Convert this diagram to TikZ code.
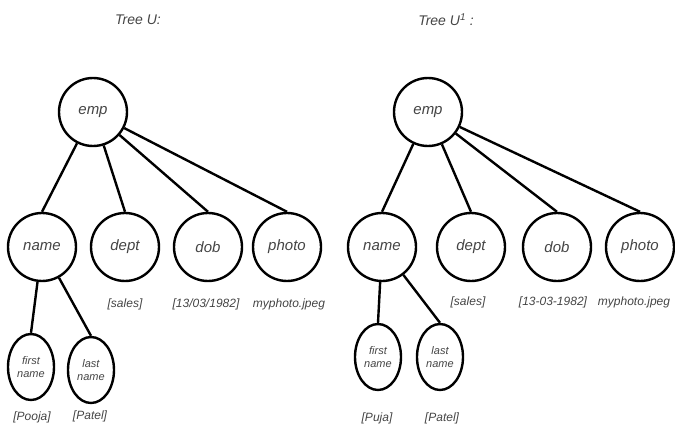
\documentclass[tikz,border=0pt]{standalone}
\usepackage{fontspec}
\setmainfont{Liberation Sans}
\usetikzlibrary{shapes.geometric}
\definecolor{txt}{HTML}{444444}
\tikzset{
  circ/.style={circle,draw=black,line width=2.4pt,minimum size=68pt,inner sep=0pt,
    font=\itshape\fontsize{15}{15}\selectfont,text=txt},
  ell/.style={ellipse,draw=black,line width=2.4pt,minimum width=46pt,minimum height=66pt,inner sep=0pt,
    align=center,font=\itshape\fontsize{11}{12.5}\selectfont,text=txt},
  lab/.style={font=\itshape\fontsize{12}{12}\selectfont,text=txt,inner sep=0pt},
  ttl/.style={font=\itshape\fontsize{14}{14}\selectfont,text=txt,inner sep=0pt},
  edge/.style={draw=black,line width=2.4pt}
}
\begin{document}
\begin{tikzpicture}[x=1pt,y=-1pt]
\useasboundingbox (0,0) rectangle (675,428);
% Left tree
\node[ttl] (t1) at (138,20) {Tree U:};
\node[circ] (e1) at (93,112) {emp};
\node[circ] (n1) at (42,247) {name};
\node[circ] (d1) at (125,247) {dept};
\node[circ] (b1) at (208,247) {dob};
\node[circ] (p1) at (287,247) {photo};
\node[ell] (f1) at (31,367) {first\\name};
\node[ell] (l1) at (91,370) {last\\name};
\node[lab] (s1) at (125,304) {[sales]};
\node[lab] (db1) at (206,304) {[13/03/1982]};
\node[lab] (ph1) at (289,304) {myphoto.jpeg};
\node[lab] (fv1) at (32,417) {[Pooja]};
\node[lab] (lv1) at (90,416) {[Patel]};
\draw[edge] (e1) -- (n1.north);
\draw[edge] (e1) -- (d1.north);
\draw[edge] (e1) -- (b1.north);
\draw[edge] (e1) -- (p1.north);
\draw[edge] (n1) -- (f1.north);
\draw[edge] (n1) -- (l1.north);
% Right tree
\node[ttl] (t2) at (446,20) {Tree U$^{\mathit{1}}$ :};
\node[circ] (e2) at (428,112) {emp};
\node[circ] (n2) at (382,247) {name};
\node[circ] (d2) at (471,247) {dept};
\node[circ] (b2) at (557,247) {dob};
\node[circ] (p2) at (640,247) {photo};
\node[ell] (f2) at (378,357) {first\\name};
\node[ell] (l2) at (440,357) {last\\name};
\node[lab] (s2) at (468,302) {[sales]};
\node[lab] (db2) at (553,302) {[13-03-1982]};
\node[lab] (ph2) at (634,302) {myphoto.jpeg};
\node[lab] (fv2) at (377,418) {[Puja]};
\node[lab] (lv2) at (442,418) {[Patel]};
\draw[edge] (e2) -- (n2.north);
\draw[edge] (e2) -- (d2.north);
\draw[edge] (e2) -- (b2.north);
\draw[edge] (e2) -- (p2.north);
\draw[edge] (n2) -- (f2.north);
\draw[edge] (n2) -- (l2.north);
\end{tikzpicture}
\end{document}
